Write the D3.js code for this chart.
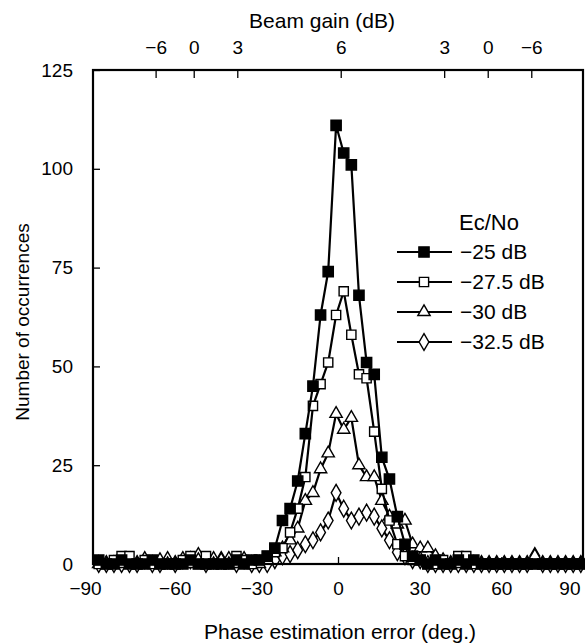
<!DOCTYPE html>
<html>
<head>
<meta charset="utf-8">
<script src="https://cdn.jsdelivr.net/npm/d3@7"></script>
<style>
  body { margin: 0; background: #fff; }
  text { font-family: "Liberation Sans", Arial, sans-serif; fill: #000; }
</style>
</head>
<body>
<svg id="chart" width="585" height="644"></svg>
<script>
// phase error bins (deg.)
const phaseBins = [
  -87.9, -85.1, -82.3, -79.5, -76.6, -73.8, -71.0, -68.2, -65.4, -62.6,
  -59.8, -57.0, -54.2, -51.3, -48.5, -45.7, -42.9, -40.1, -37.3, -34.5,
  -31.7, -28.9, -26.0, -23.2, -20.4, -17.6, -14.8, -12.0, -9.2, -6.4,
  -3.6, -0.7, 2.1, 4.9, 7.7, 10.5, 13.3, 16.1, 18.9, 21.8,
  24.6, 27.4, 30.2, 33.0, 35.8, 38.6, 41.4, 44.2, 47.1, 49.9,
  52.7, 55.5, 58.3, 61.1, 63.9, 66.7, 69.5, 72.3, 75.2, 78.0,
  80.8, 83.6, 86.4, 89.2
];

const ecno25 = [
  1, 0, 0, 1, 0, 0, 0, 1, 0, 0,
  0, 0, 1, 0, 0, 0, 0, 0, 1, 0,
  1, 1, 2, 4, 11, 14, 21, 33, 45, 63,
  74, 111, 104, 101, 68, 51, 48, 27, 21.5, 12,
  5, 2, 1, 0, 1, 0, 0, 1, 0, 1,
  0, 0, 0, 0, 0, 0, 0, 0, 0, 0,
  0, 0, 0, 0
];

const ecno275 = [
  0, 0, 1, 2, 2, 0, 1, 0, 0, 0,
  0, 1, 2, 0, 2, 0, 0, 0, 2, 1,
  0, 1, 2, 3, 4, 8, 14, 22, 40, 45.5,
  51, 63, 69, 58, 48, 47, 33.5, 19, 11, 5,
  2, 1, 1, 0, 0, 1, 0, 2, 2, 0,
  0, 0, 0, 0, 0, 0, 0, 0, 0, 0,
  0, 0, 0, 0
];

const ecno30 = [
  0, 0, 0, 0, 1, 0, 0, 0, 1, 0,
  0, 0, 0, 1, 0, 0, 1, 0, 0, 0,
  0, 0, 1, 3, 4, 6, 9, 16, 18, 24,
  28, 38, 34, 37, 25, 22, 22, 16, 12, 10,
  11, 5, 4, 4, 2, 1, 0, 0, 1, 0,
  0, 0, 0, 0, 0, 0, 0, 2, 0, 0,
  0, 0, 0, 0
];

const ecno325 = [
  0, 0, 0, 0, 0, 0, 1, 0, 0, 1,
  0, 1, 1, 2, 0, 1, 1, 1, 0, 1,
  0, 0, 0, 1, 2, 2.5, 3.5, 5, 6, 8,
  11, 18, 14, 11, 12, 13, 12, 9, 6, 3,
  2, 1, 1, 0, 0, 0, 0, 0, 0, 0,
  0, 0, 0, 0, 0, 0, 0, 2, 0, 0,
  0, 0, 0, 0
];

const seriesNames = ["\u221225 dB", "\u221227.5 dB", "\u221230 dB", "\u221232.5 dB"];
const seriesValues = [ecno25, ecno275, ecno30, ecno325];
const seriesMarkers = ["filledSquare", "openSquare", "triangle", "diamond"];

const xTicks = [-90, -60, -30, 0, 30, 60, 90];
const yTicks = [0, 25, 50, 75, 100, 125];
// beam gain ticks on the top axis, placed at phase error positions
const gainTickPhase = [-67, -53, -37, 1, 39, 55, 71];
const gainTickLabels = ["\u22126", "0", "3", "6", "3", "0", "\u22126"];

const svg = d3.select("#chart");
const margin = { top: 70, right: 2, bottom: 80, left: 93 };
const width = 585, height = 644;

const x = d3.scaleLinear().domain([-90, 90]).range([margin.left, width - margin.right]);
const y = d3.scaleLinear().domain([0, 125]).range([height - margin.bottom, margin.top]);

const markerPath = {
  filledSquare: d3.symbol(d3.symbolSquare, 105),
  openSquare: d3.symbol(d3.symbolSquare, 85),
  triangle: d3.symbol(d3.symbolTriangle, 66),
  diamond: d3.symbol(d3.symbolDiamond, 82)
};

function drawMarker(g, kind) {
  g.attr("d", markerPath[kind]())
    .attr("fill", kind === "filledSquare" ? "#000" : "#fff")
    .attr("stroke", "#000")
    .attr("stroke-width", 1.4);
}

// series, last one first so that -25 dB sits on top
const line = d3.line().x((d, i) => x(phaseBins[i])).y(d => y(d));
for (let s = seriesValues.length - 1; s >= 0; s--) {
  const g = svg.append("g");
  g.append("path")
    .datum(seriesValues[s])
    .attr("fill", "none")
    .attr("stroke", "#000")
    .attr("stroke-width", 2.2)
    .attr("stroke-linejoin", "round")
    .attr("d", line);
  g.selectAll("path.mk")
    .data(seriesValues[s])
    .enter().append("path")
      .attr("class", "mk")
      .attr("transform", (d, i) => `translate(${x(phaseBins[i])},${y(d)})`)
      .call(drawMarker, seriesMarkers[s]);
}

// frame
svg.append("rect")
  .attr("x", x(-90)).attr("y", y(125))
  .attr("width", x(90) - x(-90)).attr("height", y(0) - y(125))
  .attr("fill", "none").attr("stroke", "#000").attr("stroke-width", 2.2);

const fontSize = "19px";
const titleSize = "21px";

// bottom axis
const xAxis = svg.append("g")
  .attr("transform", `translate(0,${y(0)})`)
  .call(d3.axisBottom(x).tickValues(xTicks).tickSize(-7).tickPadding(18)
    .tickFormat(d => d < 0 ? "\u2212" + Math.abs(d) : d));
xAxis.select(".domain").remove();
xAxis.selectAll("line").attr("stroke-width", 1.3);
xAxis.selectAll("text").attr("font-size", fontSize).attr("font-family", null);
xAxis.selectAll(".tick").filter(d => d === 90).select("text").attr("text-anchor", "end").attr("dx", -3);
xAxis.selectAll(".tick").filter(d => d === -90).select("text").attr("dx", -8);

// left axis
const yAxis = svg.append("g")
  .attr("transform", `translate(${x(-90)},0)`)
  .call(d3.axisLeft(y).tickValues(yTicks).tickSize(-7).tickPadding(20));
yAxis.select(".domain").remove();
yAxis.selectAll("line").attr("stroke-width", 1.3);
yAxis.selectAll("text").attr("font-size", fontSize).attr("font-family", null);

// top axis: beam gain
const topAxis = svg.append("g")
  .attr("transform", `translate(0,${y(125)})`)
  .call(d3.axisTop(x).tickValues(gainTickPhase).tickSize(-8).tickPadding(16)
    .tickFormat((d, i) => gainTickLabels[i]));
topAxis.select(".domain").remove();
topAxis.selectAll("line").attr("stroke-width", 1.3);
topAxis.selectAll("text").attr("font-size", fontSize).attr("font-family", null);

// titles
svg.append("text")
  .attr("x", 322).attr("y", 28)
  .attr("text-anchor", "middle").attr("font-size", titleSize)
  .text("Beam gain (dB)");

svg.append("text")
  .attr("x", 340).attr("y", 639)
  .attr("text-anchor", "middle").attr("font-size", titleSize)
  .text("Phase estimation error (deg.)");

svg.append("text")
  .attr("transform", "translate(29,322) rotate(-90)")
  .attr("text-anchor", "middle").attr("font-size", fontSize)
  .text("Number of occurrences");

// legend
const legend = svg.append("g").attr("transform", "translate(397,222)");
legend.append("text")
  .attr("x", 62).attr("y", 8)
  .attr("font-size", "22px")
  .text("Ec/No");
const rows = legend.selectAll("g.row")
  .data(seriesNames)
  .enter().append("g")
    .attr("class", "row")
    .attr("transform", (d, i) => `translate(0,${30 + i * 30})`);
rows.append("line")
  .attr("x1", 0).attr("x2", 55)
  .attr("stroke", "#000").attr("stroke-width", 2.2);
rows.append("path")
  .attr("transform", "translate(27,0)")
  .each(function(d, i) { d3.select(this).call(drawMarker, seriesMarkers[i]); });
rows.append("text")
  .attr("x", 63).attr("dy", "0.35em")
  .attr("font-size", "21px")
  .text(d => d);
</script>
</body>
</html>
